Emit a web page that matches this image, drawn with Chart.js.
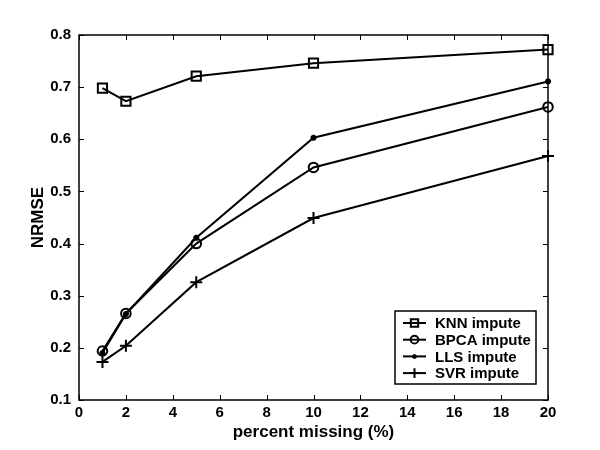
<!DOCTYPE html>
<html>
<head>
<meta charset="utf-8">
<script src="https://cdn.jsdelivr.net/npm/chart.js@4/dist/chart.umd.min.js"></script>
<style>
html,body{margin:0;padding:0;background:#fff;}
#wrap{width:600px;height:450px;}
</style>
</head>
<body>
<div id="wrap"><canvas id="c" width="600" height="450"></canvas></div>
<script>
const percentMissing = [1, 2, 5, 10, 20];
const knnImpute  = [0.698, 0.673, 0.721, 0.746, 0.772];
const bpcaImpute = [0.194, 0.266, 0.400, 0.546, 0.662];
const llsImpute  = [0.190, 0.265, 0.411, 0.603, 0.711];
const svrImpute  = [0.173, 0.204, 0.326, 0.449, 0.568];
const seriesNames = ['KNN impute', 'BPCA impute', 'LLS impute', 'SVR impute'];
const xTicks = [0, 2, 4, 6, 8, 10, 12, 14, 16, 18, 20];
const yTicks = [0.1, 0.2, 0.3, 0.4, 0.5, 0.6, 0.7, 0.8];

const FONT = '"Liberation Sans", Arial, sans-serif';
const pts = vals => percentMissing.map((x, i) => ({x: x, y: vals[i]}));

const styles = [
  {pointStyle: 'rect', pointRadius: 6.5},
  {pointStyle: 'circle', pointRadius: 4.8},
  {pointStyle: 'star', pointRadius: 3},
  {pointStyle: 'cross', pointRadius: 6}
];
const allVals = [knnImpute, bpcaImpute, llsImpute, svrImpute];

const datasets = allVals.map((v, i) => ({
  label: seriesNames[i],
  data: pts(v),
  borderColor: '#000',
  backgroundColor: 'rgba(0,0,0,0)',
  borderWidth: 2,
  pointBorderWidth: 2,
  pointBorderColor: '#000',
  pointBackgroundColor: 'rgba(0,0,0,0)',
  pointStyle: styles[i].pointStyle,
  pointRadius: styles[i].pointRadius,
  tension: 0,
  fill: false,
  clip: false
}));

const boxPlugin = {
  id: 'boxPlugin',
  afterDraw(chart) {
    const {ctx, chartArea: a, scales} = chart;
    ctx.save();
    ctx.strokeStyle = '#000';
    ctx.lineWidth = 1.5;
    ctx.strokeRect(a.left, a.top, a.right - a.left, a.bottom - a.top);
    const L = 5;
    ctx.lineWidth = 1;
    ctx.beginPath();
    xTicks.forEach(t => {
      const px = Math.round(scales.x.getPixelForValue(t)) + 0.5;
      ctx.moveTo(px, a.bottom); ctx.lineTo(px, a.bottom - L);
      ctx.moveTo(px, a.top); ctx.lineTo(px, a.top + L);
    });
    yTicks.forEach(t => {
      const py = Math.round(scales.y.getPixelForValue(t)) + 0.5;
      ctx.moveTo(a.left, py); ctx.lineTo(a.left + L, py);
      ctx.moveTo(a.right, py); ctx.lineTo(a.right - L, py);
    });
    ctx.stroke();

    // legend
    const bw = 141, bh = 73;
    const bx = a.right - 12 - bw, by = a.bottom - 16 - bh;
    ctx.fillStyle = '#fff';
    ctx.fillRect(bx, by, bw, bh);
    ctx.lineWidth = 1.5;
    ctx.strokeRect(bx, by, bw, bh);
    ctx.font = 'bold 15px ' + FONT;
    ctx.textBaseline = 'middle';
    ctx.textAlign = 'left';
    chart.data.datasets.forEach((ds, i) => {
      const cy = by + 12 + i * 16.7;
      ctx.strokeStyle = '#000';
      ctx.lineWidth = 2;
      ctx.beginPath();
      ctx.moveTo(bx + 8, cy); ctx.lineTo(bx + 31, cy);
      ctx.stroke();
      ctx.fillStyle = 'rgba(0,0,0,0)';
      Chart.helpers.drawPoint(ctx, {
        pointStyle: ds.pointStyle,
        radius: ds.pointRadius * 0.8,
        borderWidth: 2,
        rotation: 0
      }, bx + 19.5, cy);
      ctx.fillStyle = '#000';
      ctx.fillText(ds.label, bx + 40, cy + 1);
    });
    ctx.restore();
  }
};

new Chart(document.getElementById('c'), {
  type: 'line',
  data: {datasets: datasets},
  plugins: [boxPlugin],
  options: {
    responsive: false,
    animation: false,
    layout: {padding: {top: 35, right: 52, left: 28, bottom: 0}},
    plugins: {legend: {display: false}, tooltip: {enabled: false}},
    scales: {
      x: {
        type: 'linear', min: 0, max: 20,
        afterBuildTicks: s => { s.ticks = xTicks.map(v => ({value: v})); },
        afterFit: s => { s.height = 50; },
        grid: {display: false, drawTicks: false},
        border: {display: false},
        ticks: {color: '#000', padding: 4, font: {family: FONT, size: 15, weight: 'bold'}},
        title: {display: true, text: 'percent missing (%)', color: '#000',
                font: {family: FONT, size: 17, weight: 'bold'}, padding: {top: 0, bottom: 7}}
      },
      y: {
        type: 'linear', min: 0.1, max: 0.8,
        afterBuildTicks: s => { s.ticks = yTicks.map(v => ({value: v})); },
        afterFit: s => { s.width = 51; },
        grid: {display: false, drawTicks: false},
        border: {display: false},
        ticks: {color: '#000', padding: 8, font: {family: FONT, size: 15, weight: 'bold'},
                callback: v => v.toFixed(1)},
        title: {display: true, text: 'NRMSE', color: '#000',
                font: {family: FONT, size: 17, weight: 'bold'}, padding: {top: 0, bottom: 0}}
      }
    }
  }
});
</script>
</body>
</html>
